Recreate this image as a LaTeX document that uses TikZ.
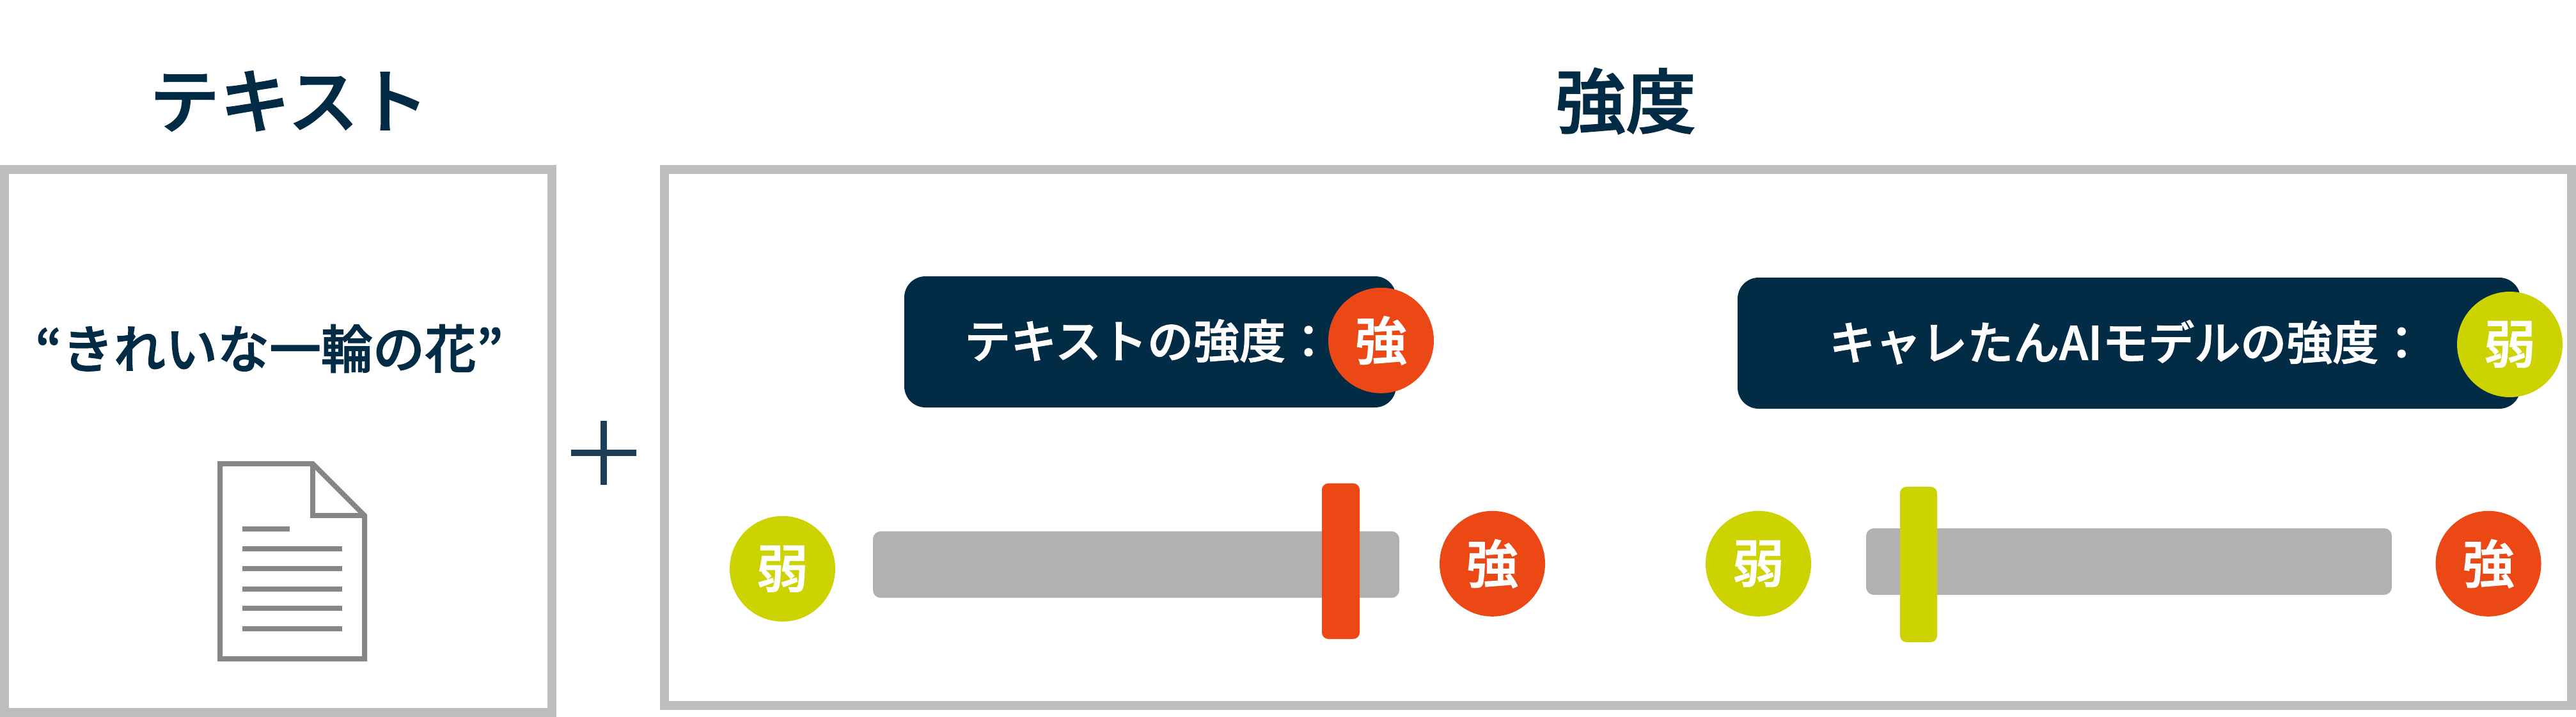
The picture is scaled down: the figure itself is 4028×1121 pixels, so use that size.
\documentclass[tikz,border=0pt]{standalone}
\usepackage{fontspec}
\setmainfont{Noto Sans CJK JP}
\newfontfamily\cjk[FakeBold=1.6]{Noto Sans CJK JP Medium}
\definecolor{navy}{HTML}{022B45}
\definecolor{plusc}{HTML}{1B3F5A}
\definecolor{orng}{HTML}{EC4815}
\definecolor{yell}{HTML}{CDD300}
\definecolor{barc}{HTML}{B0B1B0}
\definecolor{edge}{HTML}{BDBDBD}
\definecolor{docc}{HTML}{868686}
\newcommand{\fs}[1]{\fontsize{#1pt}{#1pt}\selectfont\cjk}
\tikzset{
  x=1pt,y=-1pt,
  panel/.style={draw=edge,line width=14pt,fill=white},
  title/.style={text=navy,inner sep=0pt,font=\fs{110}},
  pill/.style={fill=navy,rounded corners=33pt},
  pilltext/.style={text=white,inner sep=0pt,font=\fs{72}},
  badge/.style={circle,minimum size=165pt,inner sep=0pt,text=white,font=\fs{81}},
  weak/.style={badge,fill=yell},
  strong/.style={badge,fill=orng},
  bar/.style={fill=barc,rounded corners=12pt},
  handleo/.style={fill=orng,rounded corners=10pt},
  handley/.style={fill=yell,rounded corners=10pt},
  docline/.style={draw=docc,line width=8pt},
}
\begin{document}
\begin{tikzpicture}
\useasboundingbox (0,0) rectangle (4028,1121);
\fill[white] (0,0) rectangle (4028,1121);
% panels
\draw[panel] (7,265) rectangle (863,1114);
\draw[panel] (1039,265) rectangle (4021,1103);
% titles
\node[title] (t1) at (452,158) {テキスト};
\node[title] (t2) at (2542,158) {強度};
\node[text=navy,inner sep=0pt,font=\fs{81}] (q) at (421,545) {“きれいな一輪の花”};
% document icon
\draw[draw=docc,line width=8pt,miter limit=4] (344,725) -- (489,725) -- (570,806) -- (570,1030) -- (344,1030) -- cycle;
\draw[draw=docc,line width=8pt] (489,725) -- (489,806) -- (570,806);
\draw[docline] (379,827) -- (453,827);
\foreach \y in {858,889,921,951,983} \draw[docline] (379,\y) -- (535,\y);
% plus
\draw[plusc,line width=10pt] (893,708) -- (995,708);
\draw[plusc,line width=10pt] (944,658) -- (944,758);
% pill 1
\fill[pill] (1414,432) rectangle (2183,637);
\node[pilltext,anchor=west] (p1) at (1508,533) {テキストの強度：};
\node[strong] (s1) at (2159.5,532.3) {強};
% pill 2
\fill[pill] (2717,434) rectangle (3941,639);
\node[pilltext,anchor=west] (p2) at (2860,535) {キャレたんAIモデルの強度：};
\node[weak] (s2) at (3924.5,538.5) {弱};
% slider 1
\fill[bar] (1365,830.7) rectangle (2188,934.7);
\fill[handleo] (2067,755.7) rectangle (2126,999);
\node[weak] (w1) at (1223.5,889.3) {弱};
\node[strong] (k1) at (2333.5,881.3) {強};
% slider 2
\fill[bar] (2918,826) rectangle (3740,930);
\fill[handley] (2971,761) rectangle (3029,1004);
\node[weak] (w2) at (2749.5,881.3) {弱};
\node[strong] (k2) at (3891,881.3) {強};
\end{tikzpicture}
\end{document}
